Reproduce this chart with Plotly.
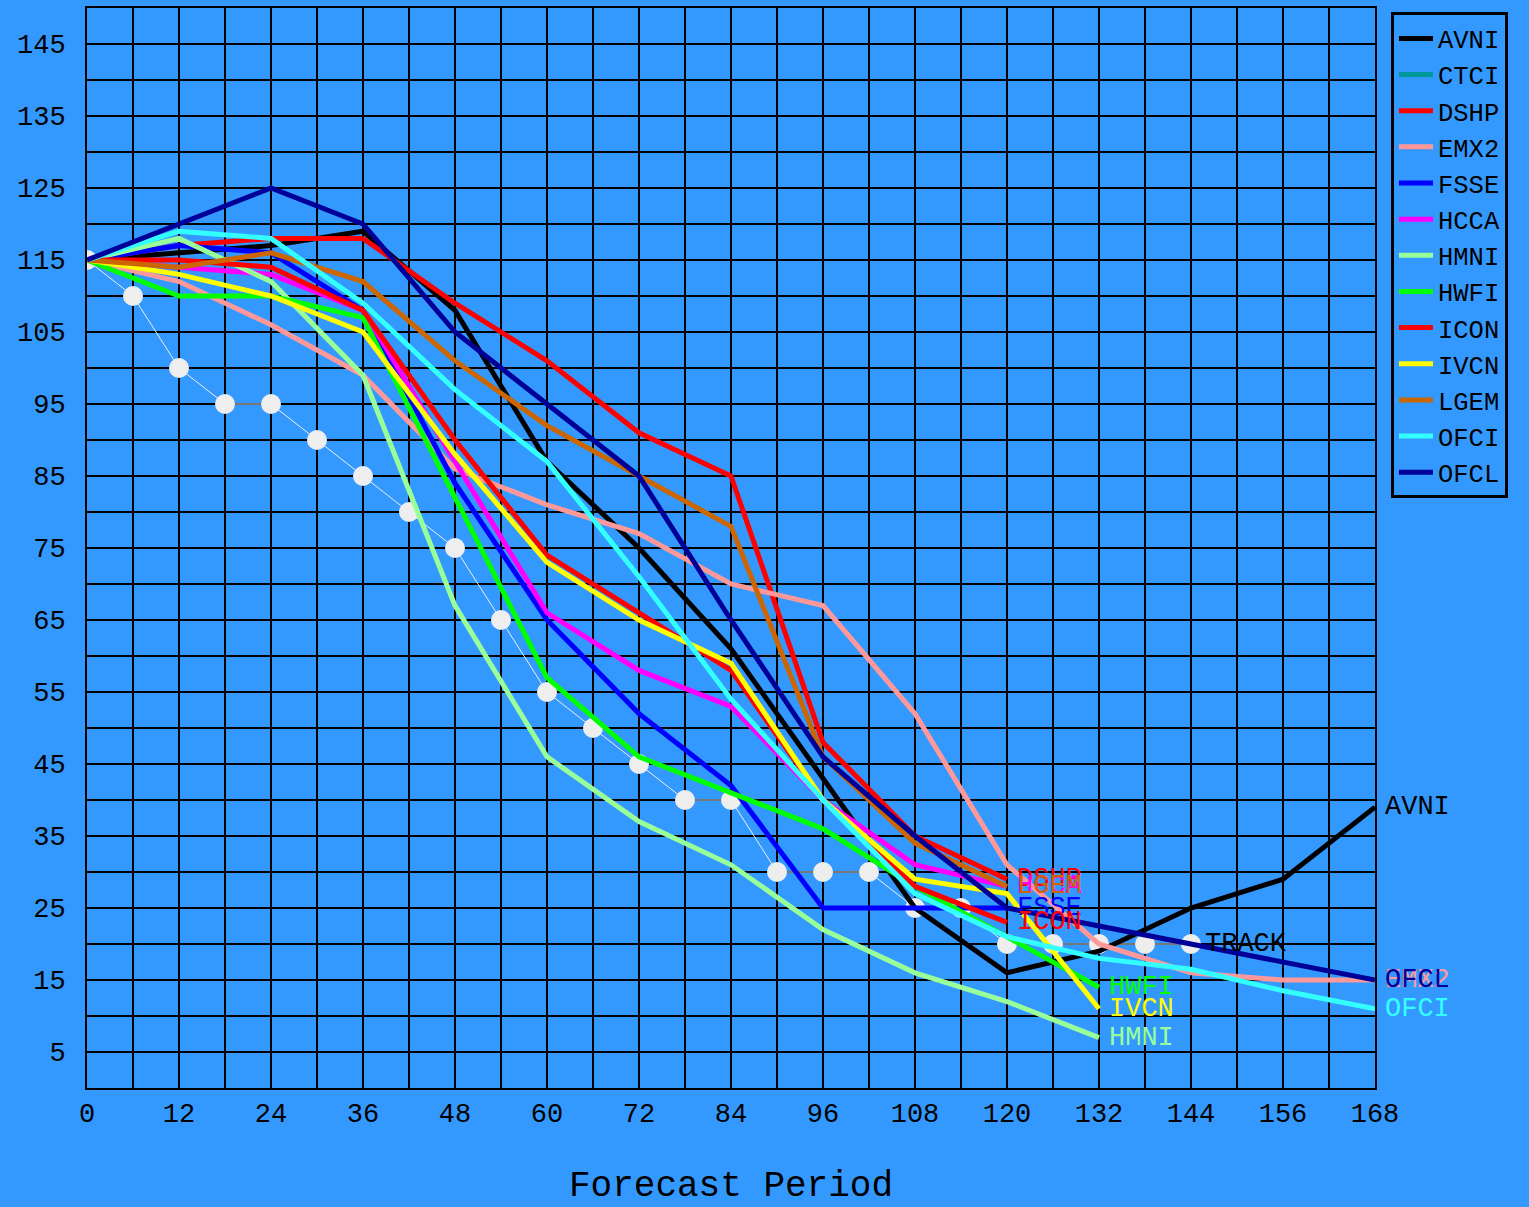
import plotly.graph_objects as go

# ---------------- data ----------------
hours_12 = [0, 12, 24, 36, 48, 60, 72, 84, 96, 108, 120, 132, 144, 156, 168]

track_hours = [0, 6, 12, 18, 24, 30, 36, 42, 48, 54, 60, 66, 72, 78, 84, 90, 96,
               102, 108, 114, 120, 126, 132, 138, 144]
track_vals = [115, 110, 100, 95, 95, 90, 85, 80, 75, 65, 55, 50, 45, 40, 40, 30, 30,
              30, 25, 25, 20, 20, 20, 20, 20]

AVNI = [115, 116, 117, 119, 108, 87, 75, 61, 43, 25, 16, 19, 25, 29, 39]
CTCI = []
DSHP = [115, 117, 118, 118, 109, 101, 91, 85, 48, 35, 29]
EMX2 = [115, 112, 106, 99, 86, 81, 77, 70, 67, 52, 31, 20, 16, 15, 15]
FSSE = [115, 117, 116, 108, 84, 65, 52, 42, 25, 25, 25]
HCCA = [115, 114, 113, 108, 87, 66, 58, 53, 40, 31, 28]
HMNI = [115, 118, 112, 99, 67, 46, 37, 31, 22, 16, 12, 7]
HWFI = [115, 110, 110, 107, 82, 57, 46, 41, 36, 28, 21, 14]
ICON = [115, 115, 114, 108, 90, 74, 66, 58, 40, 28, 23]
IVCN = [115, 113, 110, 105, 88, 73, 65, 59, 40, 29, 27, 11]
LGEM = [115, 114, 116, 112, 101, 92, 85, 78, 46, 34, 28]
OFCI = [115, 119, 118, 109, 97, 87, 71, 54, 40, 27, 21, 18, 16.5, 13.5, 11]
OFCL = [115, 120, 125, 120, 105, 95, 85, 65, 46, 35, 25, 22.5, 20, 17.5, 15]

x_tick_vals = [0, 12, 24, 36, 48, 60, 72, 84, 96, 108, 120, 132, 144, 156, 168]
y_tick_vals = [5, 15, 25, 35, 45, 55, 65, 75, 85, 95, 105, 115, 125, 135, 145]

models = [
    ("AVNI", AVNI, "#000000"),
    ("CTCI", CTCI, "#009999"),
    ("DSHP", DSHP, "#FF0000"),
    ("EMX2", EMX2, "#FF9999"),
    ("FSSE", FSSE, "#0000FF"),
    ("HCCA", HCCA, "#FF00FF"),
    ("HMNI", HMNI, "#99FF99"),
    ("HWFI", HWFI, "#00FF00"),
    ("ICON", ICON, "#FF0000"),
    ("IVCN", IVCN, "#FFFF00"),
    ("LGEM", LGEM, "#CC6600"),
    ("OFCI", OFCI, "#33FFFF"),
    ("OFCL", OFCL, "#000099"),
]

BG = "#3399FF"
FONT = "Liberation Mono"
TXT = 27

fig = go.Figure()

# observed track
fig.add_trace(go.Scatter(
    x=track_hours, y=track_vals, mode="lines+markers", name="TRACK",
    showlegend=False,
    line=dict(color="#EEEEEE", width=1),
    marker=dict(symbol="circle", size=20, color="#EEEEEE"),
))

annotations = []
for name, vals, col in models:
    xs = hours_12[:len(vals)] if vals else [None]
    ys = vals if vals else [None]
    fig.add_trace(go.Scatter(
        x=xs, y=ys, mode="lines", name=name,
        line=dict(color=col, width=5),
    ))
    if vals:
        annotations.append(dict(
            x=xs[-1], y=ys[-1], xref="x", yref="y", text=name,
            showarrow=False, xanchor="left", yanchor="middle", xshift=8,
            font=dict(family=FONT, size=TXT, color=col),
        ))

annotations.append(dict(
    x=track_hours[-1], y=track_vals[-1], xref="x", yref="y", text="TRACK",
    showarrow=False, xanchor="left", yanchor="middle", xshift=12,
    font=dict(family=FONT, size=TXT, color="#000000"),
))

fig.update_layout(
    width=1529, height=1207,
    margin=dict(l=87, r=154, t=8, b=119),
    paper_bgcolor=BG, plot_bgcolor=BG,
    font=dict(family=FONT, size=TXT, color="#000000"),
    annotations=annotations,
    legend=dict(
        x=1.0124, y=0.996, xanchor="left", yanchor="top",
        bgcolor=BG, bordercolor="#000000", borderwidth=3,
        font=dict(family=FONT, size=25.5, color="#000000"),
        itemwidth=34, tracegroupgap=0,
    ),
)

fig.update_xaxes(
    range=[0, 168], tickvals=x_tick_vals, ticktext=[str(v) for v in x_tick_vals],
    showgrid=True, gridcolor="#000000", gridwidth=2,
    minor=dict(dtick=6, tick0=0, showgrid=True, gridcolor="#000000", gridwidth=2),
    showline=True, linecolor="#000000", linewidth=2, mirror=True,
    zeroline=False, ticks="", ticklabelstandoff=0, automargin=False,
    tickfont=dict(family=FONT, size=TXT, color="#000000"),
    title=dict(text="Forecast Period", standoff=60,
               font=dict(family=FONT, size=36, color="#000000")),
)
fig.update_yaxes(
    range=[0, 150], tickvals=y_tick_vals, ticktext=[str(v) for v in y_tick_vals],
    showgrid=True, gridcolor="#000000", gridwidth=2,
    minor=dict(dtick=5, tick0=0, showgrid=True, gridcolor="#000000", gridwidth=2),
    showline=True, linecolor="#000000", linewidth=2, mirror=True,
    zeroline=False, ticks="", ticklabelstandoff=14, automargin=False,
    tickfont=dict(family=FONT, size=TXT, color="#000000"),
)

fig.write_html("out.html", config={"displayModeBar": False},
               post_script="document.body.style.margin='0';document.body.style.background='#3399FF';")
